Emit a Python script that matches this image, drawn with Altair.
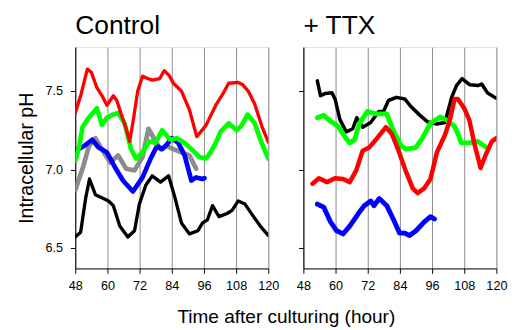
import altair as alt
import pandas as pd

# ---------------- data ----------------
# Control panel
ctrl_red_t = [48, 50, 52.5, 54, 56.1, 58, 59.8, 62.2, 63.5, 65.2, 67, 68.3, 69.5, 71.3, 73.1, 75, 76.7, 79.5, 81.2, 83, 84.6, 87.6, 90.6, 93.3, 96.7, 100.4, 103, 105.2, 108.8, 110.5, 112.5, 114.9, 117.5, 120]
ctrl_red_ph = [7.36, 7.47, 7.64, 7.62, 7.52, 7.47, 7.41, 7.47, 7.44, 7.35, 7.26, 7.18, 7.30, 7.50, 7.595, 7.58, 7.57, 7.58, 7.63, 7.60, 7.55, 7.50, 7.38, 7.21, 7.28, 7.41, 7.48, 7.55, 7.555, 7.54, 7.50, 7.42, 7.28, 7.175]

ctrl_green_t = [48, 49.5, 50.7, 53, 56.1, 57.9, 59.8, 62, 64, 66.4, 68.8, 70.7, 73.1, 75.5, 77.9, 80.4, 83.4, 85.9, 88.8, 91.3, 94.3, 96.7, 98.5, 100.4, 102.2, 105.2, 108.2, 110, 112.3, 114.9, 117.5, 120]
ctrl_green_ph = [7.057, 7.15, 7.27, 7.33, 7.39, 7.285, 7.33, 7.35, 7.36, 7.295, 7.13, 7.07, 7.11, 7.18, 7.17, 7.25, 7.19, 7.20, 7.17, 7.13, 7.08, 7.07, 7.11, 7.17, 7.24, 7.295, 7.25, 7.28, 7.35, 7.295, 7.17, 7.07]

ctrl_gray_t = [48, 50.7, 53.1, 55.5, 57.9, 61, 64, 67, 70.1, 73.1, 75.3, 77.6, 79.8, 82.2, 84.6, 87.6, 90.6, 93.1]
ctrl_gray_ph = [6.87, 7.005, 7.15, 7.20, 7.13, 7.045, 7.09, 7.005, 6.995, 7.08, 7.26, 7.19, 7.13, 7.15, 7.13, 7.11, 7.09, 7.005]

ctrl_blue_t = [48, 51.3, 54.3, 56.7, 59.8, 62.8, 65.8, 69.5, 73.1, 76.1, 78.5, 80.4, 82.2, 84, 86.4, 88.8, 91.3, 93.1, 95.5, 96.2]
ctrl_blue_ph = [7.12, 7.15, 7.19, 7.14, 7.11, 7.015, 6.93, 6.86, 6.95, 7.07, 7.15, 7.13, 7.16, 7.20, 7.17, 7.09, 6.93, 6.95, 6.94, 6.945]

ctrl_black_t = [48, 50, 51.9, 53.3, 55.5, 57.9, 60.4, 62.2, 64.6, 67.6, 70.1, 71.9, 74.3, 76.7, 79.8, 82.8, 85.2, 87.6, 90.6, 93.7, 95.5, 97.3, 99.2, 101.6, 104.6, 106.5, 108.8, 111.3, 114.3, 117, 120]
ctrl_black_ph = [6.57, 6.60, 6.82, 6.94, 6.84, 6.82, 6.80, 6.77, 6.64, 6.57, 6.61, 6.78, 6.90, 6.96, 6.92, 6.96, 6.82, 6.66, 6.59, 6.61, 6.66, 6.68, 6.77, 6.70, 6.72, 6.74, 6.80, 6.78, 6.705, 6.64, 6.58]

# + TTX panel
ttx_black_t = [53.2, 54.4, 56.2, 58.6, 59.8, 61.6, 64, 66.4, 67.9, 70.1, 73.1, 76.1, 77.9, 79.7, 82.7, 85.8, 88.2, 91.2, 94.2, 97.8, 100.8, 103.3, 105.1, 107.2, 110.1, 113.1, 114.5, 116.6, 119.8]
ttx_black_ph = [7.565, 7.47, 7.485, 7.49, 7.45, 7.32, 7.24, 7.26, 7.33, 7.27, 7.30, 7.37, 7.37, 7.44, 7.46, 7.45, 7.40, 7.35, 7.305, 7.29, 7.30, 7.46, 7.535, 7.58, 7.54, 7.535, 7.545, 7.49, 7.455]

ttx_green_t = [53.2, 55.6, 58, 61, 63.4, 65.3, 67.1, 68.9, 71.9, 74.9, 79.1, 81.5, 84.5, 86.3, 89.9, 92.4, 95.4, 99, 101.4, 104.4, 105.6, 106.9, 109.9, 112.9, 115.9]
ttx_green_ph = [7.33, 7.345, 7.31, 7.275, 7.21, 7.17, 7.19, 7.295, 7.37, 7.355, 7.355, 7.25, 7.15, 7.13, 7.14, 7.20, 7.295, 7.335, 7.315, 7.275, 7.23, 7.17, 7.17, 7.18, 7.145]

ttx_red_t = [51.4, 53.8, 56.8, 59.8, 62.8, 65.3, 67.7, 70.1, 72.5, 75.5, 78.8, 80.9, 83.3, 86.3, 88.8, 90.6, 93, 95.4, 97.8, 100.8, 102.6, 104.4, 105.6, 108, 109.9, 111.7, 114.1, 115.9, 118.3, 120]
ttx_red_ph = [6.91, 6.945, 6.92, 6.945, 6.94, 6.92, 6.995, 7.12, 7.14, 7.20, 7.27, 7.23, 7.13, 6.985, 6.88, 6.85, 6.88, 6.94, 7.11, 7.22, 7.315, 7.45, 7.45, 7.39, 7.315, 7.17, 7.01, 7.09, 7.18, 7.20]

ttx_blue_t = [53.2, 55.6, 58, 60.4, 62.8, 65.3, 68.3, 70.7, 73.1, 74.3, 76.3, 79.1, 81.5, 83.9, 85.8, 87.6, 90, 93, 95.4, 96.9]
ttx_blue_ph = [6.78, 6.76, 6.67, 6.61, 6.59, 6.64, 6.715, 6.77, 6.80, 6.77, 6.815, 6.77, 6.685, 6.595, 6.595, 6.58, 6.61, 6.665, 6.70, 6.685]

x_ticks = [48, 60, 72, 84, 96, 108, 120]
y_ticks = [6.5, 7.0, 7.5]
panel_titles = ["Control", "+ TTX"]
x_title = "Time after culturing (hour)"
y_title = "Intracellular pH"

FONT = "Liberation Sans"
COLORS = {"red": "#ff0000", "green": "#00ff00", "gray": "#8c8c8c", "blue": "#0000ff", "black": "#000000"}


def frame(t, ph, name):
    return pd.DataFrame({"t": t, "ph": ph, "series": name})


ctrl = [
    (frame(ctrl_black_t, ctrl_black_ph, "black"), 3.4),
    (frame(ctrl_gray_t, ctrl_gray_ph, "gray"), 4.8),
    (frame(ctrl_blue_t, ctrl_blue_ph, "blue"), 4.8),
    (frame(ctrl_green_t, ctrl_green_ph, "green"), 4.8),
    (frame(ctrl_red_t, ctrl_red_ph, "red"), 3.4),
]
ttx = [
    (frame(ttx_black_t, ttx_black_ph, "black"), 3.6),
    (frame(ttx_blue_t, ttx_blue_ph, "blue"), 5),
    (frame(ttx_green_t, ttx_green_ph, "green"), 5),
    (frame(ttx_red_t, ttx_red_ph, "red"), 4.6),
]

xscale = alt.Scale(domain=[48, 120], nice=False, zero=False)
yscale = alt.Scale(domain=[6.37, 7.78], nice=False, zero=False)


def panel(layers, title, left):
    xaxis = alt.Axis(
        values=x_ticks, grid=True, gridColor="#8a8a8a", gridWidth=1,
        tickSize=5, tickColor="black", domainColor="black",
        labelFont=FONT, labelFontSize=13, labelColor="black", labelPadding=7,
        labelFlush=False, labelOverlap=False,
        title=x_title if left else None,
        titleFont=FONT, titleFontSize=19.5, titleFontWeight="normal", titleColor="black",
        titleX=216, titleAlign="center", titlePadding=15,
    )
    if left:
        yaxis = alt.Axis(
            values=y_ticks, format=".1f", grid=False, tickSize=5, tickColor="black",
            domainColor="black", labelFont=FONT, labelFontSize=13, labelColor="black",
            labelPadding=8, labelFlush=False, labelOverlap=False,
            title=y_title, titleFont=FONT, titleFontSize=20,
            titleFontWeight="normal", titleColor="black", titlePadding=9,
        )
    else:
        yaxis = alt.Axis(values=y_ticks, grid=False, tickSize=5, tickColor="black",
                         domainColor="black", labels=False, title=None)
    cscale = alt.Scale(domain=list(COLORS.keys()), range=list(COLORS.values()))
    charts = []
    for df, w in layers:
        charts.append(
            alt.Chart(df).mark_line(strokeWidth=w, strokeCap="round", strokeJoin="round", clip=True).encode(
                x=alt.X("t:Q", scale=xscale, axis=xaxis),
                y=alt.Y("ph:Q", scale=yscale, axis=yaxis),
                color=alt.Color("series:N", scale=cscale, legend=None),
            )
        )
    return alt.layer(*charts).properties(
        width=198, height=227,
        title=alt.TitleParams(title, anchor="start", frame="group", font=FONT, fontSize=27,
                              fontWeight="normal", color="black", offset=7),
    )


chart = alt.hconcat(panel(ctrl, panel_titles[0], True), panel(ttx, panel_titles[1], False), spacing=36, bounds="flush").configure_view(
    stroke="black", strokeWidth=1
).properties(padding={"left": 8, "top": 0, "right": 5, "bottom": 0}).configure(background="white")

chart.save("out.html", embed_options={"renderer": "svg", "actions": False})
